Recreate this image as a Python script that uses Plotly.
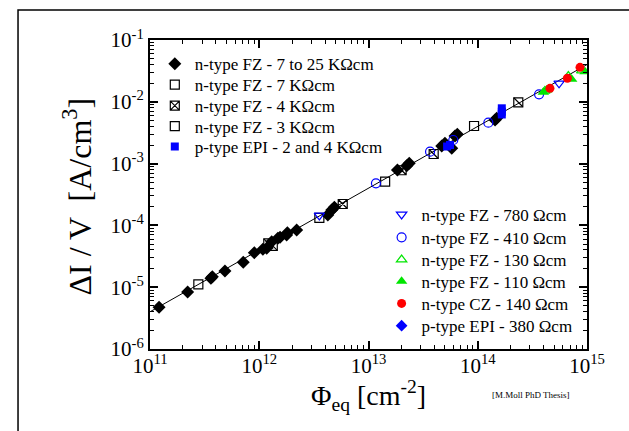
import plotly.graph_objects as go

# ---------------- data (fluence [cm^-2], dI/V [A/cm^3]) ----------------
fz_7to25_x = [1.21e11, 2.21e11, 3.61e11, 3.72e11, 4.85e11, 7.14e11, 9.01e11, 1.08e12,
              1.17e12, 1.30e12, 1.48e12, 1.55e12, 1.78e12, 1.81e12, 2.20e12, 4.24e12,
              4.61e12, 4.87e12, 1.84e13, 2.24e13, 2.36e13, 4.68e13, 5.01e13, 5.78e13,
              6.19e13, 6.50e13, 1.44e14, 1.49e14]
fz_7to25_y = [4.73e-6, 8.36e-6, 1.39e-5, 1.48e-5, 1.83e-5, 2.53e-5, 3.62e-5, 4.10e-5,
              4.26e-5, 5.44e-5, 6.18e-5, 6.41e-5, 7.00e-5, 7.62e-5, 8.43e-5, 1.47e-4,
              1.77e-4, 1.96e-4, 7.87e-4, 9.25e-4, 1.01e-3, 1.93e-3, 2.13e-3, 1.77e-3,
              2.80e-3, 2.98e-3, 5.08e-3, 5.41e-3]

fz_7k_x = [1.21e12, 1.33e12, 3.95e13, 2.35e14]
fz_7k_y = [5.13e-5, 4.65e-5, 1.43e-3, 9.82e-3]

fz_4k_x = [5.81e12, 2.01e13]
fz_4k_y = [2.22e-4, 7.80e-4]

fz_3k_x = [2.77e11, 3.55e12, 1.42e13, 9.25e13]
fz_3k_y = [1.11e-5, 1.32e-4, 5.10e-4, 4.06e-3]

epi_2and4k_x = [5.24e13, 5.57e13, 1.66e14, 1.66e14, 1.66e14]
epi_2and4k_y = [1.89e-3, 2.00e-3, 6.24e-3, 6.92e-3, 7.85e-3]

fz_780_x = [3.55e12, 5.55e14]
fz_780_y = [1.45e-4, 1.99e-2]

fz_410_x = [1.17e13, 3.66e13, 5.97e13, 1.25e14, 3.64e14]
fz_410_y = [4.80e-4, 1.56e-3, 2.41e-3, 4.59e-3, 1.32e-2]

fz_130_x = [4.12e14, 6.75e14, 8.93e14]
fz_130_y = [1.50e-2, 2.61e-2, 3.19e-2]

fz_110_x = [3.98e14, 4.28e14, 7.24e14, 9.59e14]
fz_110_y = [1.43e-2, 1.55e-2, 2.31e-2, 3.07e-2]

cz_140_x = [4.58e14, 6.61e14, 8.63e14]
cz_140_y = [1.65e-2, 2.40e-2, 3.61e-2]

epi_380_x = []
epi_380_y = []

alpha = 4.0e-17  # A/cm
fit_x = [1e11, 1e15]
fit_y = [alpha * v for v in fit_x]

x_tickvals = [1e11, 1e12, 1e13, 1e14, 1e15]
x_ticktext = ["10<sup>11</sup>", "10<sup>12</sup>", "10<sup>13</sup>", "10<sup>14</sup>", "10<sup>15</sup>"]
y_tickvals = [1e-6, 1e-5, 1e-4, 1e-3, 1e-2, 1e-1]
y_ticktext = ["10<sup>-6</sup>", "10<sup>-5</sup>", "10<sup>-4</sup>", "10<sup>-3</sup>", "10<sup>-2</sup>", "10<sup>-1</sup>"]

FONT = "Liberation Serif, Times New Roman, DejaVu Serif, serif"
BLUE = "rgb(0,0,255)"
GREEN = "rgb(0,230,0)"
RED = "rgb(255,0,0)"

def pts(v):
    return v if len(v) else [None]

fig = go.Figure()

fig.add_trace(go.Scatter(x=fit_x, y=fit_y, mode="lines", line=dict(color="black", width=1),
                         showlegend=False, hoverinfo="skip"))

# upper-left legend group (one plotly legend per entry for exact row spacing)
fig.add_trace(go.Scatter(x=fz_7to25_x, y=fz_7to25_y, mode="markers", name="n-type FZ - 7 to 25 KΩcm",
                         marker=dict(symbol="diamond", size=10, color="black"), legend="legend"))
fig.add_trace(go.Scatter(x=fz_7k_x, y=fz_7k_y, mode="markers", name="n-type FZ - 7 KΩcm",
                         marker=dict(symbol="square-open", size=9, color="black", line=dict(width=1.2)),
                         legend="legend2", legendgroup="n7"))
fig.add_trace(go.Scatter(x=fz_7k_x, y=fz_7k_y, mode="markers", showlegend=False, legendgroup="n7",
                         marker=dict(symbol="line-nw-open", size=9, color="black", line=dict(width=1.2, color="black"))))
fig.add_trace(go.Scatter(x=fz_4k_x, y=fz_4k_y, mode="markers", name="n-type FZ - 4 KΩcm",
                         marker=dict(symbol="square-x-open", size=9, color="black", line=dict(width=1.2)),
                         legend="legend3"))
fig.add_trace(go.Scatter(x=fz_3k_x, y=fz_3k_y, mode="markers", name="n-type FZ - 3 KΩcm",
                         marker=dict(symbol="square-open", size=9, color="black", line=dict(width=1.2)),
                         legend="legend4"))
fig.add_trace(go.Scatter(x=epi_2and4k_x, y=epi_2and4k_y, mode="markers", name="p-type EPI - 2 and 4 KΩcm",
                         marker=dict(symbol="square", size=8, color=BLUE), legend="legend5"))

# lower-right legend group
fig.add_trace(go.Scatter(x=fz_780_x, y=fz_780_y, mode="markers", name="n-type FZ - 780 Ωcm",
                         marker=dict(symbol="triangle-down-open", size=9, color=BLUE, line=dict(width=1.2)),
                         legend="legend6"))
fig.add_trace(go.Scatter(x=fz_410_x, y=fz_410_y, mode="markers", name="n-type FZ - 410 Ωcm",
                         marker=dict(symbol="circle-open", size=9, color=BLUE, line=dict(width=1.2)),
                         legend="legend7"))
fig.add_trace(go.Scatter(x=fz_130_x, y=fz_130_y, mode="markers", name="n-type FZ - 130 Ωcm",
                         marker=dict(symbol="triangle-up-open", size=9, color=GREEN, line=dict(width=1.2)),
                         legend="legend8"))
fig.add_trace(go.Scatter(x=fz_110_x, y=fz_110_y, mode="markers", name="n-type FZ - 110 Ωcm",
                         marker=dict(symbol="triangle-up", size=10, color=GREEN), legend="legend9"))
fig.add_trace(go.Scatter(x=cz_140_x, y=cz_140_y, mode="markers", name="n-type CZ - 140 Ωcm",
                         marker=dict(symbol="circle", size=9, color=RED), legend="legend10"))
fig.add_trace(go.Scatter(x=pts(epi_380_x), y=pts(epi_380_y), mode="markers", name="p-type EPI - 380 Ωcm",
                         marker=dict(symbol="diamond", size=9, color=BLUE), legend="legend11"))

x_minor = [m * 10 ** e for e in range(11, 15) for m in range(2, 10)]
y_minor = [m * 10.0 ** e for e in range(-6, -1) for m in range(2, 10)]

axis_common = dict(type="log", showgrid=False, zeroline=False, showline=True, linecolor="black",
                   linewidth=2, mirror="allticks", ticks="inside", ticklen=8, tickwidth=1.5,
                   tickcolor="black", tickmode="array",
                   tickfont=dict(family=FONT, size=21, color="black"))

fig.update_xaxes(**axis_common, range=[11, 15], tickvals=x_tickvals, ticktext=x_ticktext,
                 ticklabelstandoff=-3,
                 minor=dict(tickmode="array", tickvals=x_minor, ticks="inside", ticklen=4,
                            tickwidth=1, tickcolor="black", showgrid=False))
fig.update_yaxes(**axis_common, range=[-6, -1], tickvals=y_tickvals, ticktext=y_ticktext,
                 minor=dict(tickmode="array", tickvals=y_minor, ticks="inside", ticklen=4,
                            tickwidth=1, tickcolor="black", showgrid=False))

# axis titles
fig.add_annotation(text="Φ<sub>eq</sub> [cm<sup>-2</sup>]", xref="paper", yref="paper", x=0.501, y=-0.149,
                   xanchor="center", yanchor="middle", showarrow=False,
                   font=dict(family=FONT, size=28, color="black"))
fig.add_annotation(text="ΔI / V  [A/cm<sup>3</sup>]", xref="paper", yref="paper", x=-0.166, y=0.495,
                   xanchor="center", yanchor="middle", showarrow=False, textangle=-90,
                   font=dict(family=FONT, size=32, color="black"))

fig.add_shape(type="rect", xref="paper", yref="paper", x0=-0.302, x1=1.3, y0=-0.6, y1=1.097,
              line=dict(color="black", width=1.5), fillcolor="rgba(0,0,0,0)", layer="above")

fig.add_annotation(text="[M.Moll PhD Thesis]", xref="paper", yref="paper", x=0.965, y=-0.15,
                   xanchor="right", yanchor="middle", showarrow=False,
                   font=dict(family=FONT, size=9, color="black"))

legend_style = dict(xanchor="left", yanchor="middle", bgcolor="rgba(0,0,0,0)",
                    font=dict(family=FONT, size=17, color="black"))
left_rows = [0.922, 0.854, 0.786, 0.720, 0.654]
right_rows = [0.434, 0.360, 0.288, 0.218, 0.146, 0.074]
legends = {}
for i, yy in enumerate(left_rows):
    key = "legend" if i == 0 else f"legend{i + 1}"
    legends[key] = dict(x=0.011, y=yy, **legend_style)
for j, yy in enumerate(right_rows):
    legends[f"legend{j + 6}"] = dict(x=0.53, y=yy, **legend_style)

fig.update_layout(
    width=629, height=431,
    margin=dict(l=150, r=42, t=40, b=82),
    paper_bgcolor="white", plot_bgcolor="white",
    font=dict(family=FONT, color="black"),
    **legends,
)

fig.write_html("out.html")
